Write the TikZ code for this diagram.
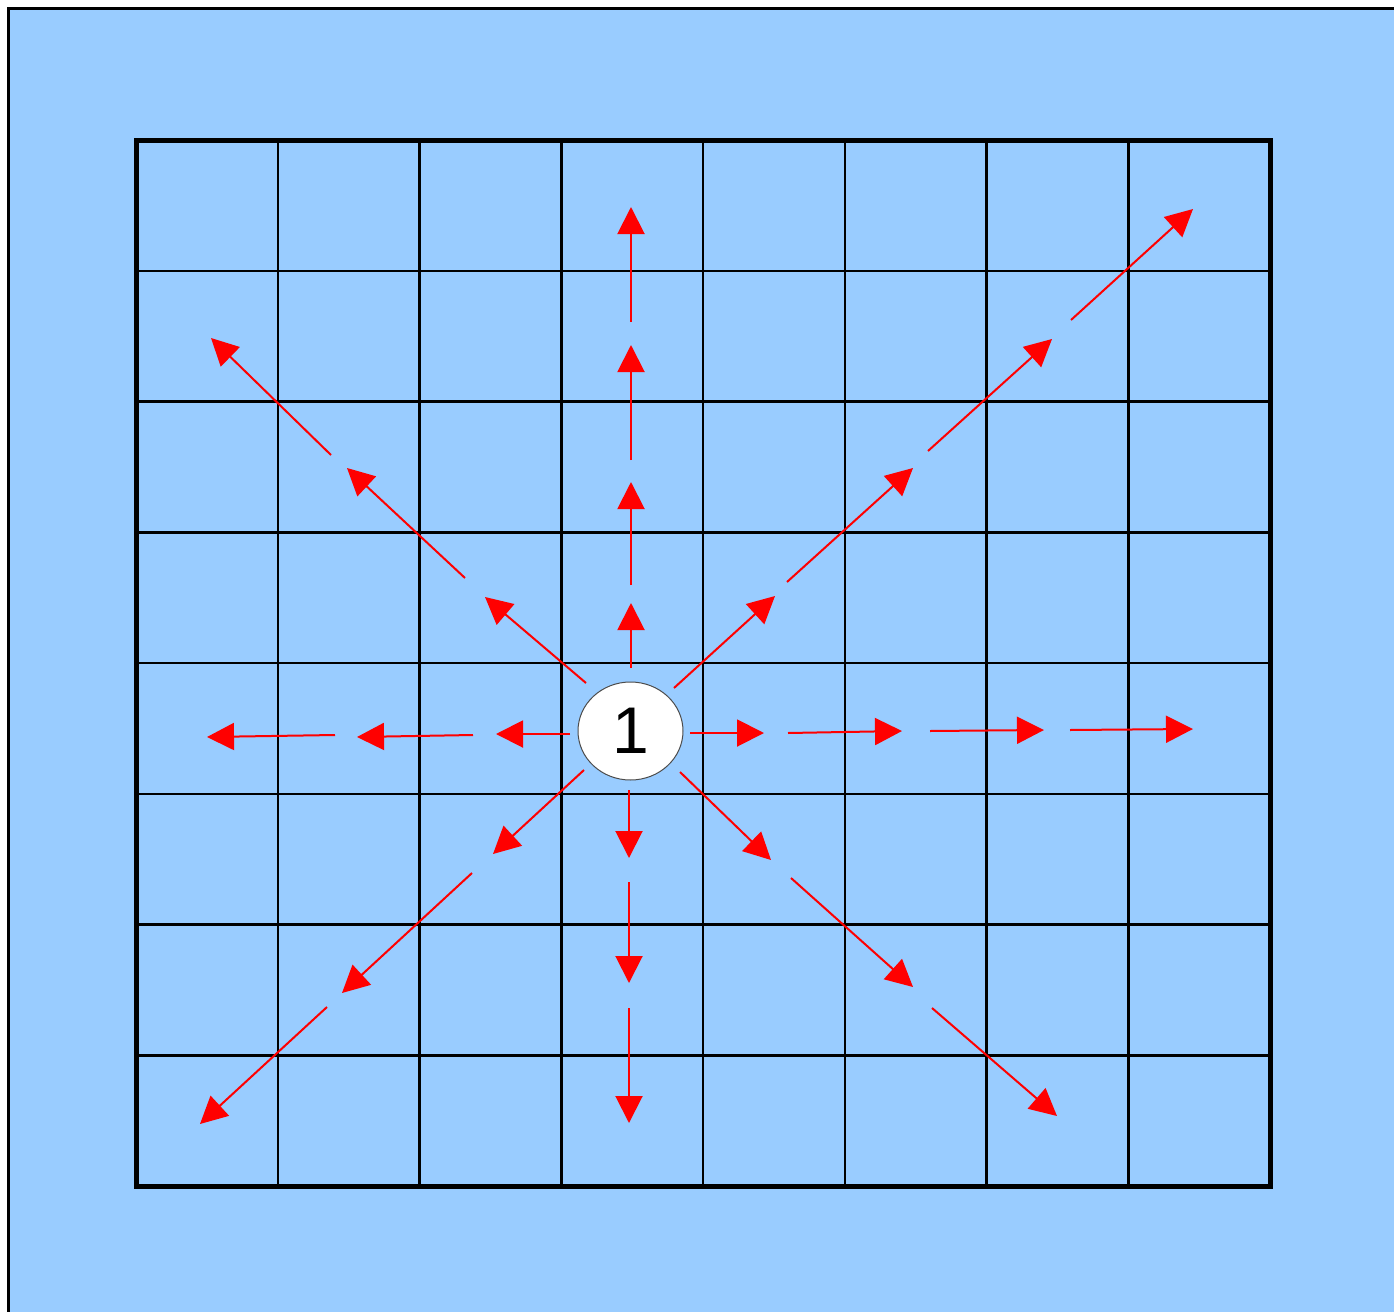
\documentclass[tikz,border=0pt]{standalone}
\usepackage{fontspec}
\setmainfont{Liberation Sans}
\usetikzlibrary{arrows.meta,shapes.geometric}
\definecolor{bg}{HTML}{99CCFF}
\begin{document}
\begin{tikzpicture}[x=0.5pt,y=-0.5pt,
  gridline/.style={black,line width=1.25pt},
  arr/.style={red,line width=1pt,-{Triangle[length=13.5pt,width=13.5pt]}},
  center/.style={ellipse,draw=black!70,line width=0.5pt,fill=white,minimum width=52.5pt,minimum height=49pt,inner sep=0pt,font=\fontsize{33}{33}\selectfont}]
\useasboundingbox (0,0) rectangle (1394,1312);
\fill[white] (0,0) rectangle (1394,1312);
\fill[bg] (8.5,8.5) rectangle (1394,1312);
\draw[line width=1.5pt] (8.5,1312) -- (8.5,8.5) -- (1394,8.5);
\foreach \i in {1,...,7} {
  \draw[gridline] ({136+\i*141.75},140) -- ({136+\i*141.75},1186);
  \draw[gridline] (136,{140+\i*130.75}) -- (1270,{140+\i*130.75});
}
\draw[line width=2.5pt] (136,140) rectangle (1270,1186);
\node[center] (c) at (630.5,731) {1};
\foreach \n/\a/\b/\c/\d in {
  u1/631/668/631/603, u2/631/585/631/482, u3/631/460/631/345, u4/631/322/631/207,
  d1/629/790/629/858, d2/629/882/629/983, d3/629/1008/629/1123,
  l1/570/734/496/734, l2/473/735/357/737, l3/335/735/207/737,
  r1/690/733/764/733, r2/788/733/902/731, r3/930/731/1044/730, r4/1070/730/1193/729,
  ur1/674/688/775/596, ur2/787/582/913/468, ur3/928/451/1052/339, ur4/1071/320/1193/209,
  ul1/586/683/485/597, ul2/465/578/347/468, ul3/331/455/211/338,
  dl1/584/770/493/854, dl2/472/873/342/993, dl3/327/1007/200/1124,
  dr1/680/772/771/860, dr2/791/878/913/987, dr3/932/1008/1057/1116} {
  \coordinate (\n a) at (\a,\b);
  \coordinate (\n b) at (\c,\d);
  \draw[arr] (\n a) -- (\n b);
}
\end{tikzpicture}
\end{document}
